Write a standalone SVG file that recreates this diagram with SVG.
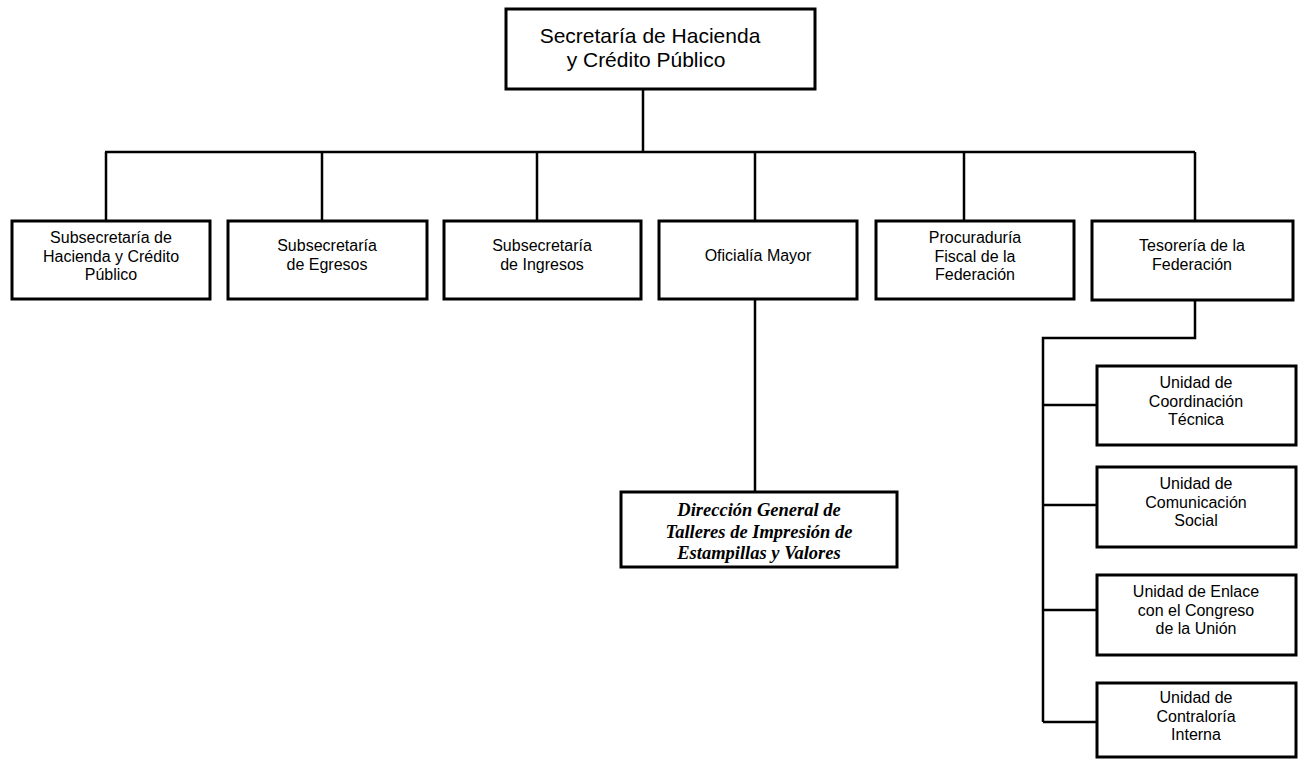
<svg xmlns="http://www.w3.org/2000/svg" width="1301" height="760" viewBox="0 0 1301 760">
<style>
.box{fill:#fff;stroke:#000;stroke-width:3}
.ln{fill:none;stroke:#000;stroke-width:2.5}
.t{font-family:"Liberation Sans",Arial,sans-serif;font-size:16px;fill:#000;text-anchor:middle}
.tt{font-size:21px}
.d{font-family:"Liberation Serif","Times New Roman",serif;font-style:italic;font-weight:bold;font-size:18.5px;fill:#000;text-anchor:middle}
</style>
<rect width="1301" height="760" fill="#fff"/>
<g id="connectors">
<path class="ln" d="M643 89V152M105 152H1195M106 152V221M322 152V221M537 152V221M755 152V221M964 152V221M1195 152V221"/>
<path class="ln" d="M755 299V492"/>
<path class="ln" d="M1195 300V338H1043V722M1043 405H1097M1043 505H1097M1043 610H1097M1043 722H1097"/>
</g>
<g id="n-shcp"><rect class="box" x="506" y="9" width="309" height="80"/>
<text class="t tt" x="650" y="43">Secretaría de Hacienda</text><text class="t tt" x="646" y="67">y Crédito Público</text></g>
<g id="n-shcp-sub"><rect class="box" x="12" y="221" width="198" height="78"/>
<text class="t" x="111" y="243">Subsecretaría de</text><text class="t" x="111" y="261.5">Hacienda y Crédito</text><text class="t" x="111" y="280">Público</text></g>
<g id="n-egresos"><rect class="box" x="228" y="221" width="199" height="78"/>
<text class="t" x="327" y="251">Subsecretaría</text><text class="t" x="327" y="269.5">de Egresos</text></g>
<g id="n-ingresos"><rect class="box" x="444" y="221" width="197" height="78"/>
<text class="t" x="542" y="251">Subsecretaría</text><text class="t" x="542" y="269.5">de Ingresos</text></g>
<g id="n-oficialia"><rect class="box" x="659" y="221" width="198" height="78"/>
<text class="t" x="758" y="261">Oficialía Mayor</text></g>
<g id="n-procuraduria"><rect class="box" x="876" y="221" width="198" height="78"/>
<text class="t" x="975" y="243">Procuraduría</text><text class="t" x="975" y="261.5">Fiscal de la</text><text class="t" x="975" y="280">Federación</text></g>
<g id="n-tesoreria"><rect class="box" x="1092" y="221" width="201" height="79"/>
<text class="t" x="1192" y="251">Tesorería de la</text><text class="t" x="1192" y="269.5">Federación</text></g>
<g id="n-direccion"><rect class="box" x="621" y="492" width="276" height="75"/>
<text class="d" x="759" y="516">Dirección General de</text><text class="d" x="759" y="537.5">Talleres de Impresión de</text><text class="d" x="759" y="559">Estampillas y Valores</text></g>
<g id="n-coordinacion"><rect class="box" x="1097" y="366" width="199" height="79"/>
<text class="t" x="1196" y="388">Unidad de</text><text class="t" x="1196" y="406.5">Coordinación</text><text class="t" x="1196" y="425">Técnica</text></g>
<g id="n-comunicacion"><rect class="box" x="1097" y="467" width="199" height="80"/>
<text class="t" x="1196" y="489">Unidad de</text><text class="t" x="1196" y="507.5">Comunicación</text><text class="t" x="1196" y="526">Social</text></g>
<g id="n-enlace"><rect class="box" x="1097" y="575" width="199" height="80"/>
<text class="t" x="1196" y="597">Unidad de Enlace</text><text class="t" x="1196" y="615.5">con el Congreso</text><text class="t" x="1196" y="634">de la Unión</text></g>
<g id="n-contraloria"><rect class="box" x="1097" y="683" width="199" height="74"/>
<text class="t" x="1196" y="703">Unidad de</text><text class="t" x="1196" y="721.5">Contraloría</text><text class="t" x="1196" y="740">Interna</text></g>
</svg>
